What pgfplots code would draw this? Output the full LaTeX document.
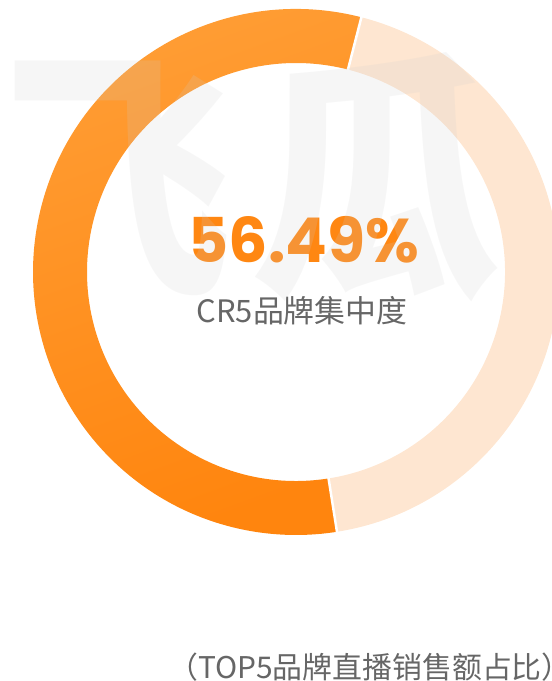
\documentclass[border=0pt]{standalone}
\usepackage{pgfplots}
\pgfplotsset{compat=1.18}
\usepackage{pgfplotstable}
\usepackage{fontspec}
\setmainfont{Noto Sans CJK SC}
\newfontfamily\cjk{Noto Sans CJK SC}
\newfontfamily\pop{Poppins}
\definecolor{orA}{HTML}{FF9E36}
\definecolor{orB}{HTML}{FF850E}
\definecolor{light}{HTML}{FEE6D1}
\definecolor{numc}{HTML}{FF8712}
\definecolor{txtc}{HTML}{666666}
\definecolor{wm}{HTML}{CFCFCF}
\pgfplotstableread{
label share
CR5 56.49
Others 43.51
}\sharetable
\pgfplotstablegetelem{0}{share}\of\sharetable
\let\shareA\pgfplotsretval
\pgfmathsetmacro\aStart{75.6}
\pgfmathsetmacro\aMid{\aStart+3.6*\shareA}
\pgfmathsetmacro\aEnd{\aStart+360}
\begin{document}
\begin{tikzpicture}
\begin{axis}[
  at={(0,0)}, anchor=south west,
  scale only axis, width=552bp, height=681bp,
  xmin=0, xmax=552, ymin=0, ymax=681,
  hide axis, clip=true]
% orange segment
\path[top color=orA, bottom color=orB, shading angle=20]
  (axis cs:296,409) ++(\aStart:263bp) arc[start angle=\aStart, end angle=\aMid, radius=263bp]
  -- ++(\aMid+180:54bp) arc[start angle=\aMid, end angle=\aStart, radius=209bp] -- cycle;
% light segment
\fill[light]
  (axis cs:296,409) ++(\aMid:263bp) arc[start angle=\aMid, end angle=\aEnd, radius=263bp]
  -- ++(\aEnd+180:54bp) arc[start angle=\aEnd, end angle=\aMid, radius=209bp] -- cycle;
% separators
\draw[white, line width=2.5bp] (axis cs:296,409) ++(\aStart:204bp) -- ++(\aStart:64bp);
\draw[white, line width=2.5bp] (axis cs:296,409) ++(\aMid:204bp) -- ++(\aMid:64bp);
% centre texts
\node[anchor=base, inner sep=0, text=numc, font=\pop\bfseries\fontsize{62}{62}\selectfont] at (axis cs:304,418) {56.49\%};
\node[anchor=base, inner sep=0, text=txtc, font=\cjk\fontsize{31}{31}\selectfont] at (axis cs:302,358) {CR5品牌集中度};
% watermark
\node[anchor=base west, inner sep=0, text=wm, text opacity=0.18, xscale=0.95, yscale=1.1, transform shape, font=\cjk\bfseries\fontsize{240}{240}\selectfont] at (axis cs:4,406) {飞};
\node[anchor=base west, inner sep=0, text=wm, text opacity=0.18, xscale=1.05, yscale=1.1, transform shape, font=\cjk\bfseries\fontsize{240}{240}\selectfont] at (axis cs:250,404) {瓜};
% bottom caption
\node[anchor=base west, inner sep=0, text=txtc, font=\cjk\fontsize{30}{30}\selectfont] at (axis cs:168,3) {（TOP5品牌直播销售额占比）};
\end{axis}
\pgfresetboundingbox
\useasboundingbox (0,0) rectangle (552bp,681bp);
\end{tikzpicture}
\end{document}
